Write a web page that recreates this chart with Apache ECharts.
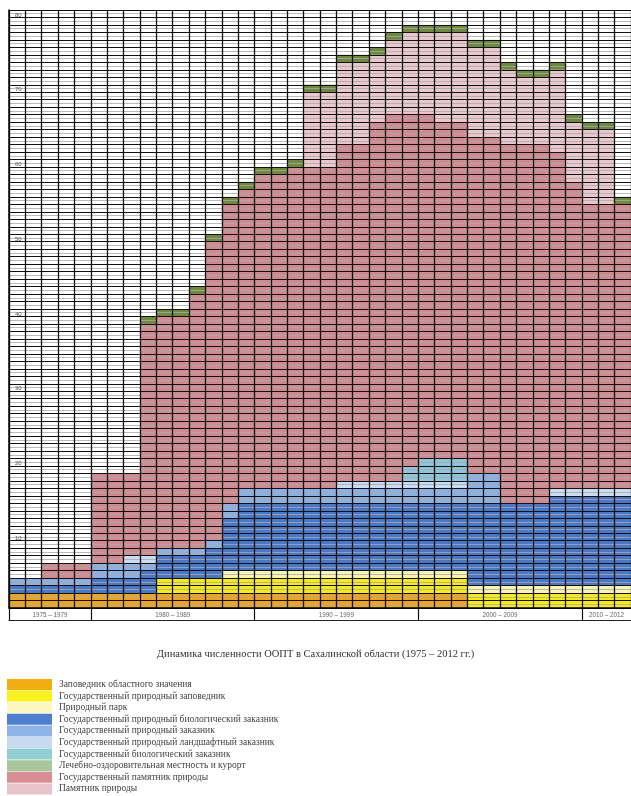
<!DOCTYPE html>
<html>
<head>
<meta charset="utf-8">
<script src="https://cdn.jsdelivr.net/npm/echarts@6/dist/echarts.min.js"></script>
<style>
html,body{margin:0;padding:0;background:#fff;}
#chart{width:631px;height:796px;}
</style>
</head>
<body>
<div id="chart"></div>
<script>
var years = ['1975','1976','1977','1978','1979','1980','1981','1982','1983','1984','1985','1986','1987','1988','1989','1990','1991','1992','1993','1994','1995','1996','1997','1998','1999','2000','2001','2002','2003','2004','2005','2006','2007','2008','2009','2010','2011','2012'];

var groupLabels = ['1975 – 1979','1980 – 1989','1990 – 1999','2000 – 2009','2010 – 2012'];
var groupCenters = [2.5, 10, 20, 30, 36.5];
var groupBounds = [0, 5, 15, 25, 35];

var yTickLabels = [10,20,30,40,50,60,70,80];

var names = [
  'Заповедник областного значения',
  'Государственный природный заповедник',
  'Природный парк',
  'Государственный природный биологический заказник',
  'Государственный природный заказник',
  'Государственный природный ландшафтный заказник',
  'Государственный биологический заказник',
  'Лечебно-оздоровительная местность и курорт',
  'Государственный памятник природы',
  'Памятник природы'
];

var zapovednikObl = [2,2,2,2,2, 2,2,2,2,2, 2,2,2,2,2, 2,2,2,2,2, 2,2,2,2,2, 2,2,2,0,0, 0,0,0,0,0, 0,0,0];
var zapovednikGos = [0,0,0,0,0, 0,0,0,0,2, 2,2,2,2,2, 2,2,2,2,2, 2,2,2,2,2, 2,2,2,2,2, 2,2,2,2,2, 2,2,2];
var prirodnyPark  = [0,0,0,0,0, 0,0,0,0,0, 0,0,0,1,1, 1,1,1,1,1, 1,1,1,1,1, 1,1,1,1,1, 1,1,1,1,1, 1,1,1];
var zakaznikBiolGos = [1,1,1,1,1, 2,2,2,3,3, 3,3,4,7,9, 9,9,9,9,9, 9,9,9,9,9, 9,9,9,11,11, 11,11,11,12,12, 12,12,12];
var zakaznikGos   = [1,1,1,1,1, 2,2,2,1,1, 1,1,1,2,2, 2,2,2,2,2, 2,2,2,2,2, 2,2,2,4,4, 0,0,0,0,0, 0,0,0];
var zakaznikLand  = [0,0,0,0,0, 0,0,1,1,0, 0,0,0,0,0, 0,0,0,0,0, 1,1,1,1,1, 1,1,1,0,0, 0,0,0,1,1, 1,1,1];
var zakaznikBiol  = [0,0,0,0,0, 0,0,0,0,0, 0,0,0,0,0, 0,0,0,0,0, 0,0,0,0,2, 3,3,3,0,0, 0,0,0,0,0, 0,0,0];
var pamyatnikGos  = [0,0,2,2,2, 12,12,11,31,31, 31,34,40,40,40, 42,42,43,43,43, 45,45,48,49,47, 46,45,45,45,45, 48,48,48,45,41, 38,38,38];
var pamyatnik     = [0,0,0,0,0, 0,0,0,0,0, 0,0,0,0,0, 0,0,0,10,10, 11,11,9,10,11, 11,12,12,12,12, 10,9,9,11,8, 10,10,0];
var kurort        = [0,0,0,0,0, 0,0,0,1,1, 1,1,1,1,1, 1,1,1,1,1, 1,1,1,1,1, 1,1,1,1,1, 1,1,1,1,1, 1,1,1];

var colors = {
  A:'#EBA520', B:'#F6EA1E', C:'#F8F4B4', D:'#4A78C8', E:'#8DB0E3',
  F:'#C9DCF2', G:'#8EC5DB', H:'#6F8A3E', I:'#D08A90', J:'#EAC7CD'
};

function s(name, data, color){
  return {
    name: name, type: 'bar', stack: 'total', data: data,
    barCategoryGap: '0%', barGap: '0%',
    itemStyle: {color: color, borderWidth: 0},
    emphasis: {disabled: true},
    animation: false
  };
}

var series = [
  s(names[0], zapovednikObl, colors.A),
  s(names[1], zapovednikGos, colors.B),
  s(names[2], prirodnyPark, colors.C),
  s(names[3], zakaznikBiolGos, colors.D),
  s(names[4], zakaznikGos, colors.E),
  s(names[5], zakaznikLand, colors.F),
  s(names[6], zakaznikBiol, colors.G),
  s(names[8], pamyatnikGos, colors.I),
  s(names[9], pamyatnik, colors.J),
  s(names[7], kurort, colors.H)
];

var legendColors = ['#F2AE10','#FAF21E','#FBF7C0','#4E7FCE','#8FB3E6','#C7DAF2','#8FCFD2','#A8C69B','#D98E95','#E9C3CA'];

var chart = echarts.init(document.getElementById('chart'), null, {renderer:'canvas'});
chart.setOption({
  backgroundColor: '#ffffff',
  animation: false,
  title: {
    text: 'Динамика численности ООПТ в Сахалинской области (1975 – 2012 гг.)',
    left: 'center', top: 644,
    textStyle: {fontFamily: 'Liberation Serif', fontSize: 10.5, fontWeight: 'normal', color: '#333'}
  },
  legend: {
    orient: 'vertical', left: 7, top: 679, height: 300,
    itemWidth: 45, itemHeight: 11, itemGap: 0.6,
    padding: 0,
    icon: 'rect',
    selectedMode: false,
    textStyle: {fontFamily: 'Liberation Serif', fontSize: 9.5, lineHeight: 11, color: '#444', padding: [0,0,0,2]},
    data: names.map(function(n, i){ return {name: n, itemStyle: {color: legendColors[i]}}; })
  },
  grid: {left: 9, top: 10, width: 625, height: 598, containLabel: false},
  xAxis: [{
    type: 'category', data: years, gridIndex: 0, z: 10,
    boundaryGap: true,
    axisLine: {show: true, lineStyle: {color: '#000', width: 1.5}},
    axisTick: {show: false},
    axisLabel: {show: false},
    splitLine: {show: true, interval: 0, lineStyle: {color: '#111', width: 1.3}}
  }, {
    type: 'value', gridIndex: 0, min: 0, max: 38, position: 'bottom', offset: 12, z: 10,
    axisLine: {show: true, lineStyle: {color: '#222', width: 1}},
    axisTick: {show: true, inside: true, length: 13, customValues: groupBounds, lineStyle: {color: '#111', width: 1.2}},
    axisLabel: {
      show: true, inside: true, margin: 2, fontSize: 6.3, color: '#666',
      customValues: groupCenters,
      formatter: function(v){ var i = groupCenters.indexOf(v); return i >= 0 ? groupLabels[i] : ''; }
    },
    splitLine: {show: false}
  }],
  yAxis: {
    type: 'value', min: 0, max: 80, interval: 1, z: 10,
    axisLine: {show: true, lineStyle: {color: '#000', width: 1.5}},
    axisTick: {show: false},
    axisLabel: {
      show: true, inside: true, margin: 6, fontSize: 6, color: '#555', verticalAlign: 'top',
      padding: [2,0,0,0],
      formatter: function(v){ return yTickLabels.indexOf(v) >= 0 ? String(v) : ''; }
    },
    splitLine: {show: true, lineStyle: {color: '#111', width: 1}},
    minorTick: {show: false, splitNumber: 2},
    minorSplitLine: {show: true, lineStyle: {color: '#aaa', width: 0.8}}
  },
  series: series
});
</script>
</body>
</html>
